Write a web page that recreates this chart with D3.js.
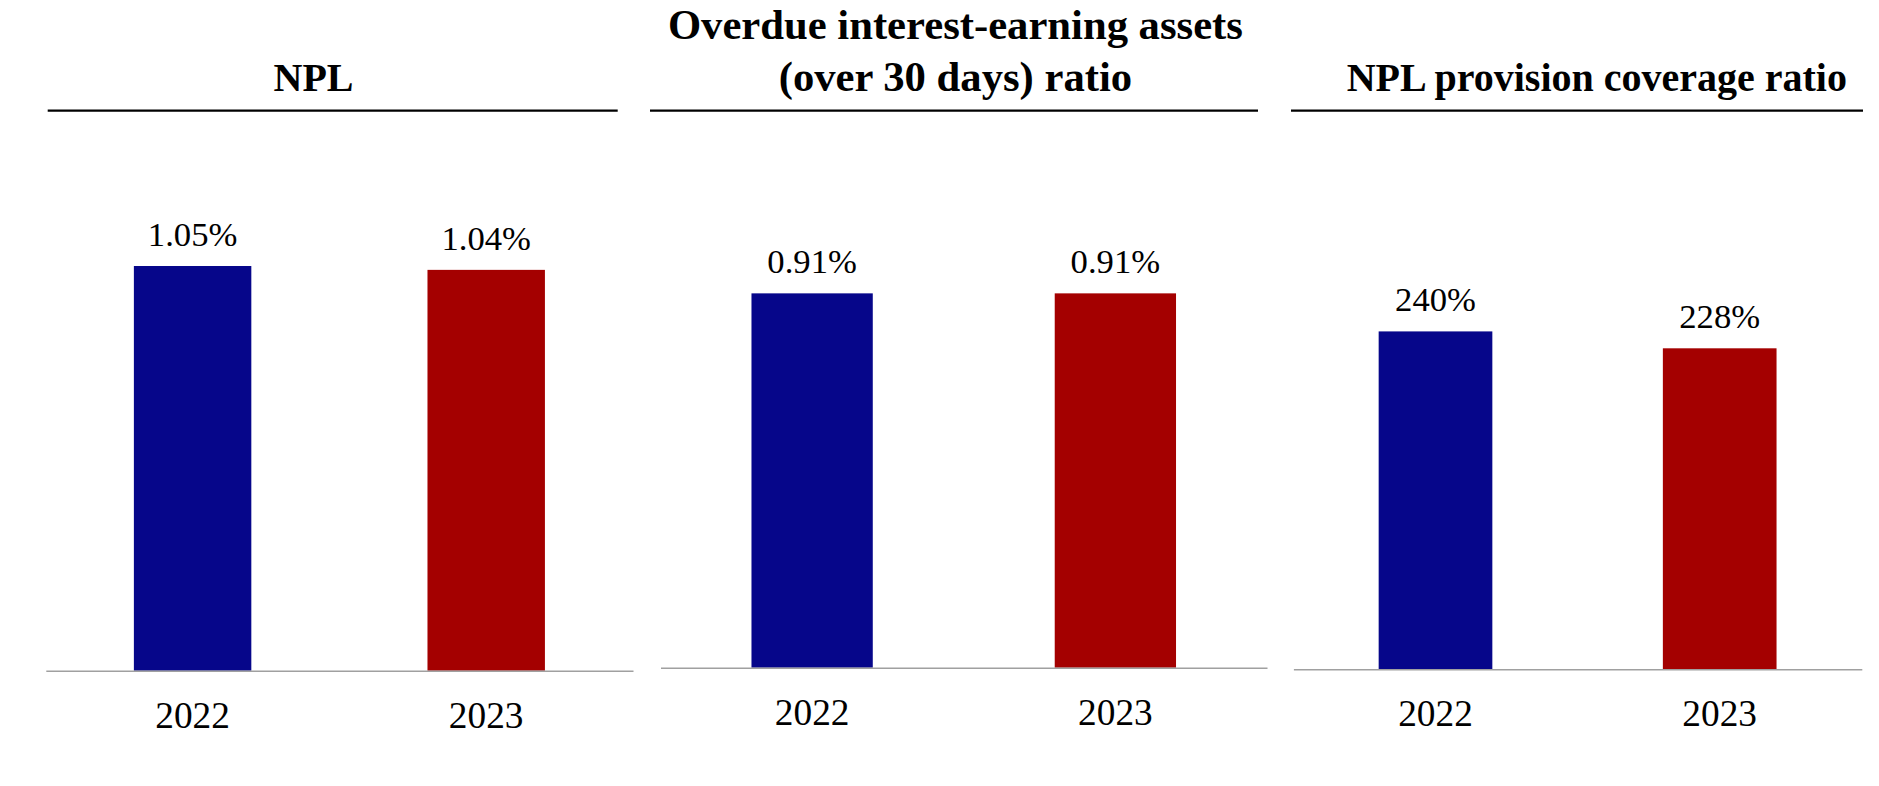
<!DOCTYPE html>
<html>
<head>
<meta charset="utf-8">
<script src="https://cdn.jsdelivr.net/npm/d3@7"></script>
<style>
  html, body { margin: 0; padding: 0; background: #ffffff; }
  svg { display: block; }
  text { font-family: "Liberation Serif", "Times New Roman", Times, serif; fill: #000; }
</style>
</head>
<body>
<svg id="chart" width="1879" height="786"></svg>
<script>
// Asset-quality indicators, 2022 vs 2023
const years = ["2022", "2023"];
const panelTitles = [
  ["NPL"],
  ["Overdue interest-earning assets", "(over 30 days) ratio"],
  ["NPL provision coverage ratio"]
];
const nplRatio = [1.05, 1.04];            // %
const overdueRatio = [0.91, 0.91];        // %
const coverageRatio = [240, 228];         // %
const valueLabels = [
  ["1.05%", "1.04%"],
  ["0.91%", "0.91%"],
  ["240%", "228%"]
];
const scaleMax = [1.2, 1.1, 330];
const barColors = ["#06068a", "#a40000"];

const series = [nplRatio, overdueRatio, coverageRatio];

// Panel geometry
const panels = [
  { x0: 45.8, x1: 633, base: 670.7, top: 208.2, titleX: 313.5, lineX0: 47.7, lineX1: 617.7, titleSize: 40 },
  { x0: 660.5, x1: 1267, base: 667.7, top: 215.2, titleX: 955.4, lineX0: 650, lineX1: 1258, titleSize: 42.67 },
  { x0: 1293.4, x1: 1861.8, base: 669.3, top: 204.7, titleX: 1596.8, lineX0: 1291, lineX1: 1863, titleSize: 40 }
];

const svg = d3.select("#chart");

panels.forEach((p, i) => {
  const g = svg.append("g");
  const values = series[i];

  const x = d3.scaleBand()
    .domain(years)
    .range([p.x0, p.x1])
    .paddingInner(0.6)
    .paddingOuter(0.3);

  const y = d3.scaleLinear()
    .domain([0, scaleMax[i]])
    .range([p.base, p.top]);

  // Title (one or two lines) with rule underneath
  const lines = panelTitles[i];
  const lastBaseline = 90.7;
  const lineGap = 51.4;
  g.selectAll("text.title")
    .data(lines)
    .join("text")
    .attr("class", "title")
    .attr("x", p.titleX)
    .attr("y", (d, j) => lastBaseline - (lines.length - 1 - j) * lineGap)
    .attr("text-anchor", "middle")
    .style("font-weight", "bold")
    .style("font-size", p.titleSize + "px")
    .text(d => d);

  g.append("line")
    .attr("x1", p.lineX0).attr("x2", p.lineX1)
    .attr("y1", 110.7).attr("y2", 110.7)
    .attr("stroke", "#000")
    .attr("stroke-width", 2.2);

  // Bars
  g.selectAll("rect.bar")
    .data(values)
    .join("rect")
    .attr("class", "bar")
    .attr("x", (d, j) => x(years[j]))
    .attr("width", x.bandwidth())
    .attr("y", d => y(d))
    .attr("height", d => y(0) - y(d))
    .attr("fill", (d, j) => barColors[j]);

  // Value labels above bars
  g.selectAll("text.val")
    .data(values)
    .join("text")
    .attr("class", "val")
    .attr("x", (d, j) => x(years[j]) + x.bandwidth() / 2)
    .attr("y", d => y(d) - 20)
    .attr("text-anchor", "middle")
    .style("font-size", "34.67px")
    .text((d, j) => valueLabels[i][j]);

  // Category axis along the baseline
  const axis = g.append("g")
    .attr("transform", `translate(0,${p.base})`)
    .call(d3.axisBottom(x).tickSize(0).tickSizeOuter(0).tickPadding(30.5));
  axis.select(".domain")
    .attr("stroke", "#a0a0a0")
    .attr("stroke-width", 1.5);
  axis.selectAll(".tick text")
    .style("font-family", '"Liberation Serif", "Times New Roman", Times, serif')
    .style("font-size", "37.33px")
    .attr("fill", "#000");
});
</script>
</body>
</html>
